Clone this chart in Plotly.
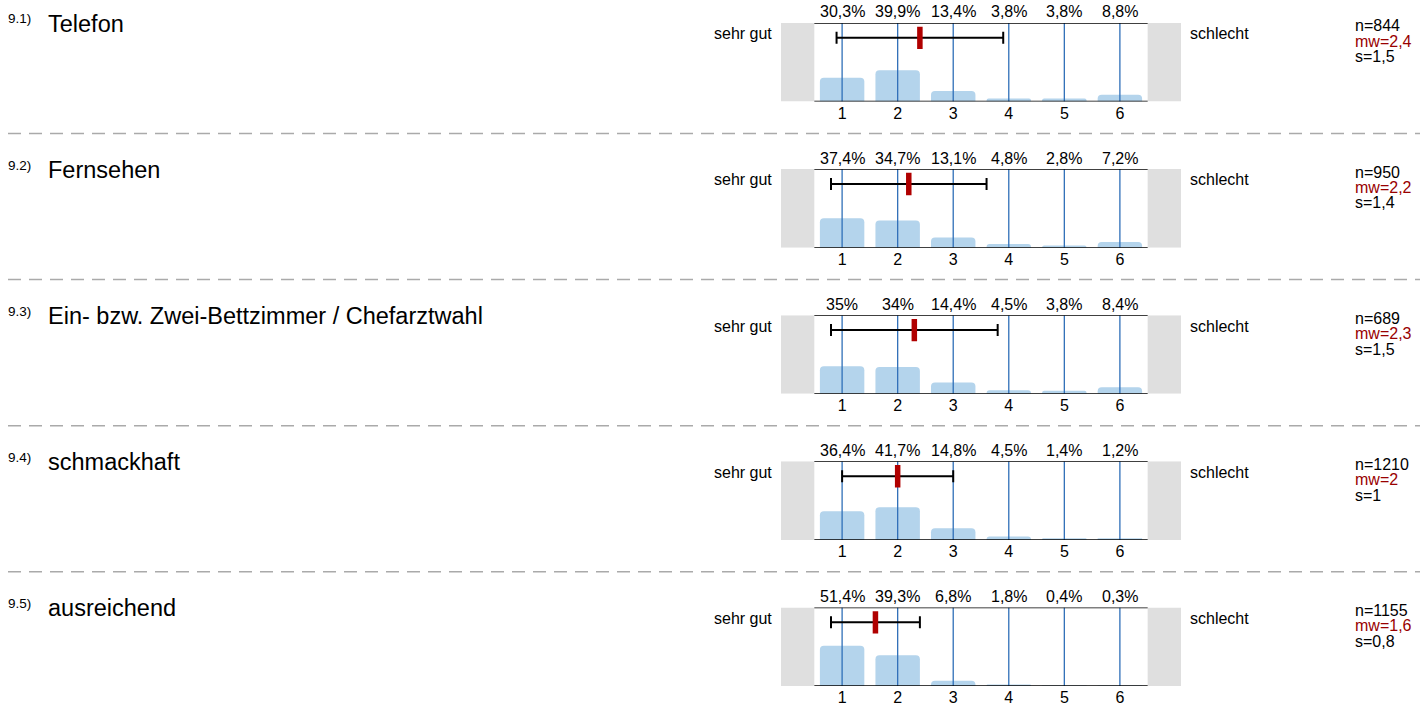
import plotly.graph_objects as go

W, H = 1420, 706

numbers = ["9.1)", "9.2)", "9.3)", "9.4)", "9.5)"]
titles = ["Telefon", "Fernsehen", "Ein- bzw. Zwei-Bettzimmer / Chefarztwahl",
          "schmackhaft", "ausreichend"]
scale = [1, 2, 3, 4, 5, 6]
pct = [
    [30.3, 39.9, 13.4, 3.8, 3.8, 8.8],
    [37.4, 34.7, 13.1, 4.8, 2.8, 7.2],
    [35.0, 34.0, 14.4, 4.5, 3.8, 8.4],
    [36.4, 41.7, 14.8, 4.5, 1.4, 1.2],
    [51.4, 39.3, 6.8, 1.8, 0.4, 0.3],
]
n_vals = [844, 950, 689, 1210, 1155]
mw_vals = [2.4, 2.2, 2.3, 2.0, 1.6]
s_vals = [1.5, 1.4, 1.5, 1.0, 0.8]
left_label = "sehr gut"
right_label = "schlecht"


def de(v):
    t = ("%.1f" % v).rstrip("0").rstrip(".")
    return t.replace(".", ",")


FONT = "Liberation Sans, Arial, sans-serif"
BAR = "#b4d4ec"
GRID = "#2f6fb8"
RED = "#b00000"
FS = 16

fig = go.Figure()
layout = dict(width=W, height=H, margin=dict(l=0, r=0, t=0, b=0),
              paper_bgcolor="white", plot_bgcolor="rgba(0,0,0,0)",
              showlegend=False, font=dict(family=FONT, color="#000"))
shapes = []
annotations = []

ROW = 146.75
OFF = 1
for i in range(5):
    top = 22 + OFF + i * ROW
    bot = 101 + OFF + i * ROW
    xa = "x" if i == 0 else f"x{i+1}"
    ya = "y" if i == 0 else f"y{i+1}"
    xk = "xaxis" if i == 0 else f"xaxis{i+1}"
    yk = "yaxis" if i == 0 else f"yaxis{i+1}"
    layout[xk] = dict(domain=[781 / W, 1181 / W], range=[-0.1, 7.1],
                      anchor=ya, tickvals=scale, ticktext=[str(v) for v in scale],
                      showgrid=False, zeroline=False, showline=False,
                      ticks="", tickfont=dict(size=FS, family=FONT, color="#000"),
                      fixedrange=True)
    layout[yk] = dict(domain=[1 - bot / H, 1 - top / H], range=[0, 100],
                      anchor=xa, showgrid=False, zeroline=False, showline=False,
                      showticklabels=False, fixedrange=True)

    # grey side boxes
    for x0, x1 in [(-0.1, 0.5), (6.5, 7.1)]:
        shapes.append(dict(type="rect", xref=xa, yref=ya, x0=x0, x1=x1, y0=0, y1=100,
                           fillcolor="#dfdfdf", line=dict(width=0), layer="below"))

    fig.add_trace(go.Bar(x=scale, y=pct[i], width=0.8, marker=dict(color=BAR, cornerradius=4,
                  line=dict(width=0)), xaxis=xa, yaxis=ya, hoverinfo="skip"))

    gx, gy = [], []
    for v in scale:
        gx += [v, v, None]
        gy += [0, 100, None]
    fig.add_trace(go.Scatter(x=gx, y=gy, mode="lines", line=dict(color=GRID, width=1.3),
                             xaxis=xa, yaxis=ya, hoverinfo="skip"))

    # top & bottom lines
    for yy in (0, 100):
        shapes.append(dict(type="line", xref=xa, yref=ya, x0=0.5, x1=6.5, y0=yy, y1=yy,
                           line=dict(color="#000", width=1.6)))

    # error bar (mean +- s)
    fig.add_trace(go.Scatter(x=[mw_vals[i]], y=[81], mode="markers",
                             marker=dict(size=1, color="rgba(0,0,0,0)"),
                             error_x=dict(type="data", array=[s_vals[i]], symmetric=True,
                                          color="#000", thickness=2, width=6),
                             xaxis=xa, yaxis=ya, hoverinfo="skip"))
    fig.add_trace(go.Scatter(x=[mw_vals[i]], y=[81], mode="markers",
                             marker=dict(symbol="line-ns", size=16,
                                         line=dict(color=RED, width=5.5)),
                             xaxis=xa, yaxis=ya, hoverinfo="skip"))

    # percentage labels
    for v, p in zip(scale, pct[i]):
        annotations.append(dict(xref=xa, yref=ya, x=v, y=100, text=de(p) + "%",
                                showarrow=False, yanchor="middle", yshift=11,
                                font=dict(size=FS, family=FONT, color="#000")))

    # side labels
    annotations.append(dict(xref="paper", yref="paper", x=774 / W, y=1 - (top + 11) / H,
                            text=left_label, showarrow=False, xanchor="right",
                            yanchor="middle", font=dict(size=FS, family=FONT)))
    annotations.append(dict(xref="paper", yref="paper", x=1188 / W, y=1 - (top + 11) / H,
                            text=right_label, showarrow=False, xanchor="left",
                            yanchor="middle", font=dict(size=FS, family=FONT)))

    # stats
    stats = [("n=%d" % n_vals[i], "#000"), ("mw=" + de(mw_vals[i]), "#990000"),
             ("s=" + de(s_vals[i]), "#000")]
    for k, (t, c) in enumerate(stats):
        annotations.append(dict(xref="paper", yref="paper", x=1353 / W,
                                y=1 - (top + 3 + k * 15.5) / H, text=t, showarrow=False,
                                xanchor="left", yanchor="middle",
                                font=dict(size=FS, family=FONT, color=c)))

    # titles
    annotations.append(dict(xref="paper", yref="paper", x=6 / W, y=1 - (top - 4) / H,
                            text=numbers[i], showarrow=False, xanchor="left",
                            yanchor="middle", font=dict(size=13.5, family=FONT)))
    annotations.append(dict(xref="paper", yref="paper", x=46 / W, y=1 - (top + 1) / H,
                            text=titles[i], showarrow=False, xanchor="left",
                            yanchor="middle", font=dict(size=23.5, family=FONT)))

    # separator
    if i < 4:
        sep = 133 + OFF + i * ROW
        shapes.append(dict(type="line", xref="paper", yref="paper", x0=8 / W, x1=1,
                           y0=1 - sep / H, y1=1 - sep / H,
                           line=dict(color="#aaaaaa", width=1.5, dash="13px,8px")))

layout["shapes"] = shapes
layout["annotations"] = annotations
fig.update_layout(**layout)
fig.write_html("out.html", config={"displayModeBar": False},
               post_script="document.body.style.margin='0';document.body.style.padding='0';"
                           "document.documentElement.style.overflow='hidden';")
